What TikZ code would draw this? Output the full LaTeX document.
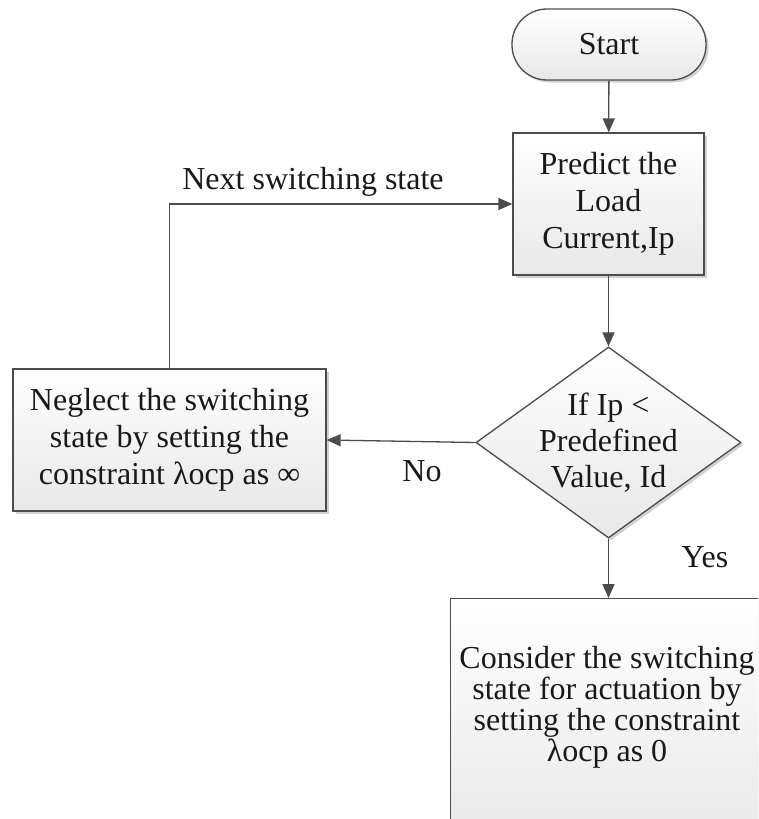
\documentclass[tikz,border=0pt]{standalone}
\usepackage{fontspec}
\setmainfont{Liberation Serif}
\usetikzlibrary{shapes.geometric,arrows.meta,shadows}
\begin{document}
\begin{tikzpicture}[x=1pt,y=-1pt,
  shape base/.style={draw=black!70, line width=1.3pt, top color=white, bottom color=black!9,
    drop shadow={shadow xshift=2.5pt,shadow yshift=-2.5pt,opacity=0.18,fill=black},
    inner sep=0pt, align=center, text=black!90},
  box/.style={shape base, rectangle, font=\fontsize{32}{37}\selectfont},
  term/.style={shape base, rectangle, rounded corners=35pt, font=\fontsize{32}{37}\selectfont},
  dec/.style={shape base, diamond},
  arr/.style={draw=black!70, line width=1.3pt, -{Triangle[length=14pt,width=12pt]}},
  lbl/.style={font=\fontsize{32}{36}\selectfont, text=black!90, inner sep=0pt, align=center}]
\useasboundingbox (0,0) rectangle (758,819);
\clip (0,0) rectangle (758,819);
\fill[white] (0,0) rectangle (758,819);

\node[term, minimum width=194pt, minimum height=71pt] (start) at (609,44.5) {Start};
\node[box, minimum width=191pt, minimum height=142pt] (predict) at (608.5,204) {Predict the\\Load\\Current,Ip};
\node[dec, minimum width=265pt, minimum height=191pt] (dec) at (608.5,442.5) {};
\node[lbl] (dectext) at (608.5,443) {If Ip <\\Predefined\\Value, Id};
\node[box, minimum width=313pt, minimum height=142pt] (neglect) at (169.5,440) {Neglect the switching\\state by setting the\\constraint λocp as ∞};
\node[box, minimum width=320pt, minimum height=250pt, anchor=north west] (consider) at (450,598) {};
\node[lbl, font=\fontsize{32}{31}\selectfont] (considertext) at (607,707) {Consider the switching\\state for actuation by\\setting the constraint\\λocp as 0};

\draw[arr] (start) -- (predict);
\draw[arr] (predict) -- (dec);
\draw[arr] (dec.west) -- (neglect.east);
\draw[arr] (neglect.north) |- (predict.west);
\draw[arr] (dec.south) -- (dec.south |- consider.north);

\node[lbl] (next) at (313,182) {Next switching state};
\node[lbl] (no) at (422,471) {No};
\node[lbl] (yes) at (705,557) {Yes};
\end{tikzpicture}
\end{document}
